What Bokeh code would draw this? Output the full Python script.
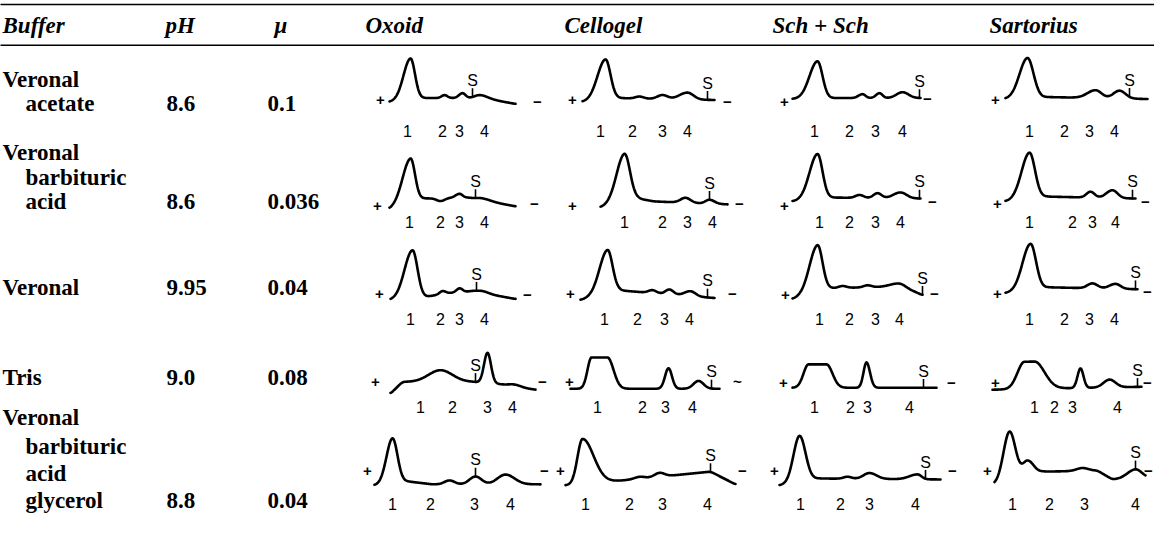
import numpy as np
from bokeh.plotting import figure
from bokeh.models import Range1d
from bokeh.core.properties import value
from bokeh.embed import file_html
from bokeh.resources import INLINE

# ---------------- table content ----------------
HEADERS = ["Buffer", "pH", "\u03bc", "Oxoid", "Cellogel", "Sch + Sch", "Sartorius"]
BUFFER_LINES = [["Veronal", "acetate"],
                ["Veronal", "barbituric", "acid"],
                ["Veronal"],
                ["Tris"],
                ["Veronal", "barbituric", "acid", "glycerol"]]
PH = ["8.6", "8.6", "9.95", "9.0", "8.8"]
MU = ["0.1", "0.036", "0.04", "0.08", "0.04"]
BAND_LABELS = ["1", "2", "3", "4"]

# densitometer scans: position along strip, baseline knots (pos, level),
# peaks (pos, height, left width, right width, flat half-width),
# S = start line, bands = position of fractions 1..4
OXOID = [
    dict(start=17, end=143, base=[(17, -4), (50, 0), (110, 0), (143, -6)],
         peaks=[(38, 42, 7, 4.5, 0), (72, 3, 3, 3, 0), (90, 5, 3.5, 3, 0), (107, 3, 5, 8, 0)],
         s=100, plus=(8, -2), minus=(165, -4), bands=[35, 70, 87, 112]),
    dict(start=17, end=143, base=[(17, -11), (50, 0), (95, 1), (143, -8)],
         peaks=[(38, 45, 8, 4.5, 0), (68, -3, 4, 4, 0), (87, 4, 4, 3, 0), (110, 2, 6, 8, 0)],
         s=103, plus=(5, -8), minus=(162, -6), bands=[37, 68, 87, 112]),
    dict(start=18, end=143, base=[(18, -9), (52, -6), (75, -2), (100, 0), (143, -8)],
         peaks=[(40, 49, 8, 5, 0), (70, 3, 3, 3, 0), (87, 4, 3, 3, 0), (110, 2, 6, 6, 0)],
         s=104, plus=(7, -3), minus=(155, -4), bands=[38, 68, 87, 112]),
    dict(start=18, end=163, base=[(18, -7), (30, 5), (100, 5), (125, 3), (163, -3)],
         peaks=[(68, 12, 12, 12, 0), (115, 31, 3.5, 3.5, 0), (142, 2, 6, 6, 0)],
         s=103, plus=(3, 5), minus=(170, 5), bands=[48, 80, 115, 140]),
    dict(start=2, end=168, base=[(2, -5), (35, -1), (60, -4), (168, -4)],
         peaks=[(20, 46, 6, 5, 0), (77, 4, 5, 5, 0), (103, 8, 6, 6, 0), (133, 10, 8, 9, 0)],
         s=103, plus=(-5, 10), minus=(172, 10), bands=[20, 58, 102, 138]),
]
CELLOGEL = [
    dict(start=20, end=152, base=[(20, -4), (55, 0), (152, -2)],
         peaks=[(43, 41, 8, 5, 0), (77, 2, 4, 4, 0), (100, 4, 5, 5, 0), (125, 7, 8, 6, 0)],
         s=145, plus=(10, -2), minus=(165, -4), bands=[38, 70, 100, 125]),
    dict(start=38, end=165, base=[(38, -9), (75, 0), (92, -3), (165, -6)],
         peaks=[(62, 49, 8, 5.5, 0), (123, 5, 5, 5, 0), (147, 4, 4, 5, 0)],
         s=147, plus=(10, -8), minus=(177, -6), bands=[62, 100, 125, 150]),
    dict(start=18, end=152, base=[(18, -9), (55, 1), (152, -7)],
         peaks=[(45, 44, 8, 5, 0), (90, 3, 4, 4, 0), (107, 5, 4, 4, 0), (128, 5, 6, 5, 0)],
         s=145, plus=(8, -3), minus=(170, -3), bands=[42, 75, 102, 127]),
    dict(start=8, end=157, base=[(8, -2), (157, -2)],
         peaks=[(37, 32, 4, 6, 8), (106, 21, 3.5, 3.5, 0), (136, 8, 5, 5, 0)],
         s=149, plus=(7, 5), minus=(175, 5), bands=[35, 80, 103, 130], minus_text="~"),
    dict(start=3, end=173, base=[(3, -5), (60, 0), (148, 9), (173, -4)],
         peaks=[(20, 46, 5, 11, 0), (77, 2, 5, 5, 0), (97, 4, 5, 5, 0)],
         s=148, plus=(-2, 10), minus=(180, 10), bands=[23, 67, 100, 145]),
]
SCH = [
    dict(start=20, end=148, base=[(20, -1), (58, 0), (148, 0)],
         peaks=[(45, 38, 8, 5, 0), (90, 4, 4, 3, 0), (107, 5, 3.5, 3, 0), (130, 6, 6, 6, 0)],
         s=147, plus=(12, -4), minus=(155, -1), bands=[42, 77, 103, 130]),
    dict(start=20, end=148, base=[(20, -3), (58, 1), (148, 0)],
         peaks=[(45, 46, 8, 5, 0), (87, 3, 4, 4, 0), (105, 5, 4, 4, 0), (128, 6, 7, 6, 0)],
         s=147, plus=(12, -8), minus=(160, -4), bands=[47, 77, 103, 128]),
    dict(start=20, end=150, base=[(20, -8), (58, 3), (130, 5), (150, -4)],
         peaks=[(45, 48, 8, 5, 0), (70, 2, 4, 4, 0), (95, 2, 4, 4, 0), (125, 3, 8, 6, 0)],
         s=150, plus=(13, -4), minus=(162, -3), bands=[47, 77, 103, 127]),
    dict(start=20, end=164, base=[(20, -1), (164, -1)],
         peaks=[(45, 24, 5, 6, 9), (94, 26, 3, 3.5, 0)],
         s=151, plus=(11, 4), minus=(179, 4), bands=[42, 78, 95, 137]),
    dict(start=7, end=168, base=[(7, -5), (45, 2), (168, 1)],
         peaks=[(27, 47, 6, 6, 0), (75, 2, 4, 4, 0), (97, 6, 6, 7, 0), (145, 5, 8, 4, 0)],
         s=153, plus=(2, 10), minus=(180, 10), bands=[28, 68, 97, 143]),
]
SARTORIUS = [
    dict(start=18, end=160, base=[(18, -1), (60, 1), (160, -1)],
         peaks=[(40, 41, 8, 6, 0), (108, 8, 8, 6, 0), (132, 8, 6, 6, 0)],
         s=142, plus=(8, -2), minus=None, bands=[42, 77, 102, 127]),
    dict(start=18, end=148, base=[(18, -3), (58, 2), (148, 0)],
         peaks=[(42, 47, 8, 5.5, 0), (103, 6, 4, 4, 0), (125, 8, 6, 5, 0)],
         s=145, plus=(10, -6), minus=(158, -4), bands=[42, 85, 105, 128]),
    dict(start=18, end=150, base=[(18, -2), (60, 4), (150, 2)],
         peaks=[(43, 47, 8, 5.5, 0), (105, 5, 5, 5, 0), (128, 5, 6, 5, 0)],
         s=148, plus=(10, -3), minus=(160, -1), bands=[42, 77, 102, 127]),
    dict(start=5, end=154, base=[(5, -3), (154, 0)],
         peaks=[(42, 28, 7, 10, 5), (93, 20, 3, 3, 0), (122, 8, 6, 6, 0)],
         s=150, plus=(8, 4), minus=(160, 4), bands=[47, 67, 85, 130]),
    dict(start=7, end=158, base=[(7, -4), (55, 9), (110, 10), (125, 1), (158, 3)],
         peaks=[(22, 50, 6, 6, 0), (40, 15, 5, 6, 0), (95, 3, 6, 6, 0), (148, 9, 8, 6, 0)],
         s=148, plus=(0, 10), minus=(161, 10), bands=[25, 62, 97, 148]),
]
MEDIA = [OXOID, CELLOGEL, SCH, SARTORIUS]

# ---------------- layout ----------------
HEADER_X = [10, 173, 282, 373, 572, 780, 997]
HEADER_Y = 32
RULES_Y = [10, 52]
BUF_X_FIRST, BUF_X_INDENT = 10, 33
BUF_LINE_Y = [[87, 112], [162, 187, 212], [300], [392], [433, 463, 491, 519]]
PH_X, MU_X = 174, 275
COL_X = [380, 570, 780, 995]
ROW_Y = [106, 209, 304, 402, 498]
NUM_Y = [140, 233, 332, 423, 522]

W, H = 1154, 517
p = figure(width=W, height=H, output_backend="svg", toolbar_location=None,
           x_range=Range1d(8, 8 + W), y_range=Range1d(536, 6),
           x_axis_type=None, y_axis_type=None, min_border=0)
p.grid.visible = False
p.outline_line_color = None
p.background_fill_color = "white"
p.border_fill_color = "white"

SERIF = value("Liberation Serif")
SANS = value("Liberation Sans")

# rules
for ry in RULES_Y:
    p.line([0, 1170], [ry, ry], line_color="black", line_width=1.5)

# header
p.text(x=HEADER_X, y=[HEADER_Y] * len(HEADERS), text=HEADERS, text_align="left",
       text_baseline="middle", text_font=SERIF, text_font_size=value("23px"),
       text_font_style="bold italic", text_color="black")

# buffer / pH / mu columns
tx, ty, tt = [], [], []
for r, lines in enumerate(BUFFER_LINES):
    for i, (ln, ly) in enumerate(zip(lines, BUF_LINE_Y[r])):
        tx.append(BUF_X_FIRST if i == 0 else BUF_X_INDENT)
        ty.append(ly)
        tt.append(ln)
    tx += [PH_X, MU_X]
    ty += [BUF_LINE_Y[r][-1]] * 2
    tt += [PH[r], MU[r]]
p.text(x=tx, y=ty, text=tt, text_align="left", text_baseline="middle",
       text_font=SERIF, text_font_size=value("23px"), text_font_style="bold",
       text_color="black")


def smooth(a, n=11):
    pad = n // 2
    ap = np.pad(a, pad, mode="edge")
    return np.convolve(ap, np.ones(n) / n, mode="valid")


def profile(tr):
    xs = np.arange(tr["start"], tr["end"] + 0.01, 0.5)
    bx = [k[0] for k in tr["base"]]
    by = [k[1] for k in tr["base"]]
    y = smooth(np.interp(xs, bx, by))
    for (c, h, sl, sr, fw) in tr["peaks"]:
        d = xs - c
        ad = np.maximum(np.abs(d) - fw, 0)
        s = np.where(d < 0, sl, sr)
        y = y + h * np.exp(-ad ** 2 / (2 * s ** 2))
    return xs, y


lx, ly = [], []
sx0, sy0, sx1, sy1 = [], [], [], []
lab_x, lab_y, lab_t = [], [], []
sign_x, sign_y, sign_t = [], [], []
for c, medium in enumerate(MEDIA):
    for r, tr in enumerate(medium):
        xs, y = profile(tr)
        X = COL_X[c] + xs
        Y = ROW_Y[r] - y
        lx.append(list(X))
        ly.append(list(Y))
        # start line S
        s_x = COL_X[c] + tr["s"]
        s_y = float(np.interp(tr["s"], xs, Y))
        sx0.append(s_x); sy0.append(s_y + 1); sx1.append(s_x); sy1.append(s_y - 9)
        lab_x.append(s_x); lab_y.append(s_y - 17); lab_t.append("S")
        # band numbers
        for b, bxp in zip(BAND_LABELS, tr["bands"]):
            lab_x.append(COL_X[c] + bxp); lab_y.append(NUM_Y[r]); lab_t.append(b)
        # electrode signs
        px, py = tr["plus"]
        sign_x.append(COL_X[c] + px); sign_y.append(ROW_Y[r] - py); sign_t.append("+")
        if tr["minus"] is not None:
            mx, my = tr["minus"]
            sign_x.append(COL_X[c] + mx); sign_y.append(ROW_Y[r] - my)
            sign_t.append(tr.get("minus_text", "\u2212"))

p.multi_line(xs=lx, ys=ly, line_color="black", line_width=2.6,
             line_join="round", line_cap="round")
p.segment(x0=sx0, y0=sy0, x1=sx1, y1=sy1, line_color="black", line_width=1.6)
p.text(x=lab_x, y=lab_y, text=lab_t, text_align="center", text_baseline="middle",
       text_font=SANS, text_font_size=value("16px"), text_color="black")
p.text(x=sign_x, y=sign_y, text=sign_t, text_align="center", text_baseline="middle",
       text_font=SANS, text_font_size=value("15px"), text_font_style="bold",
       text_color="black")

open("out.html", "w").write(file_html(p, INLINE))
